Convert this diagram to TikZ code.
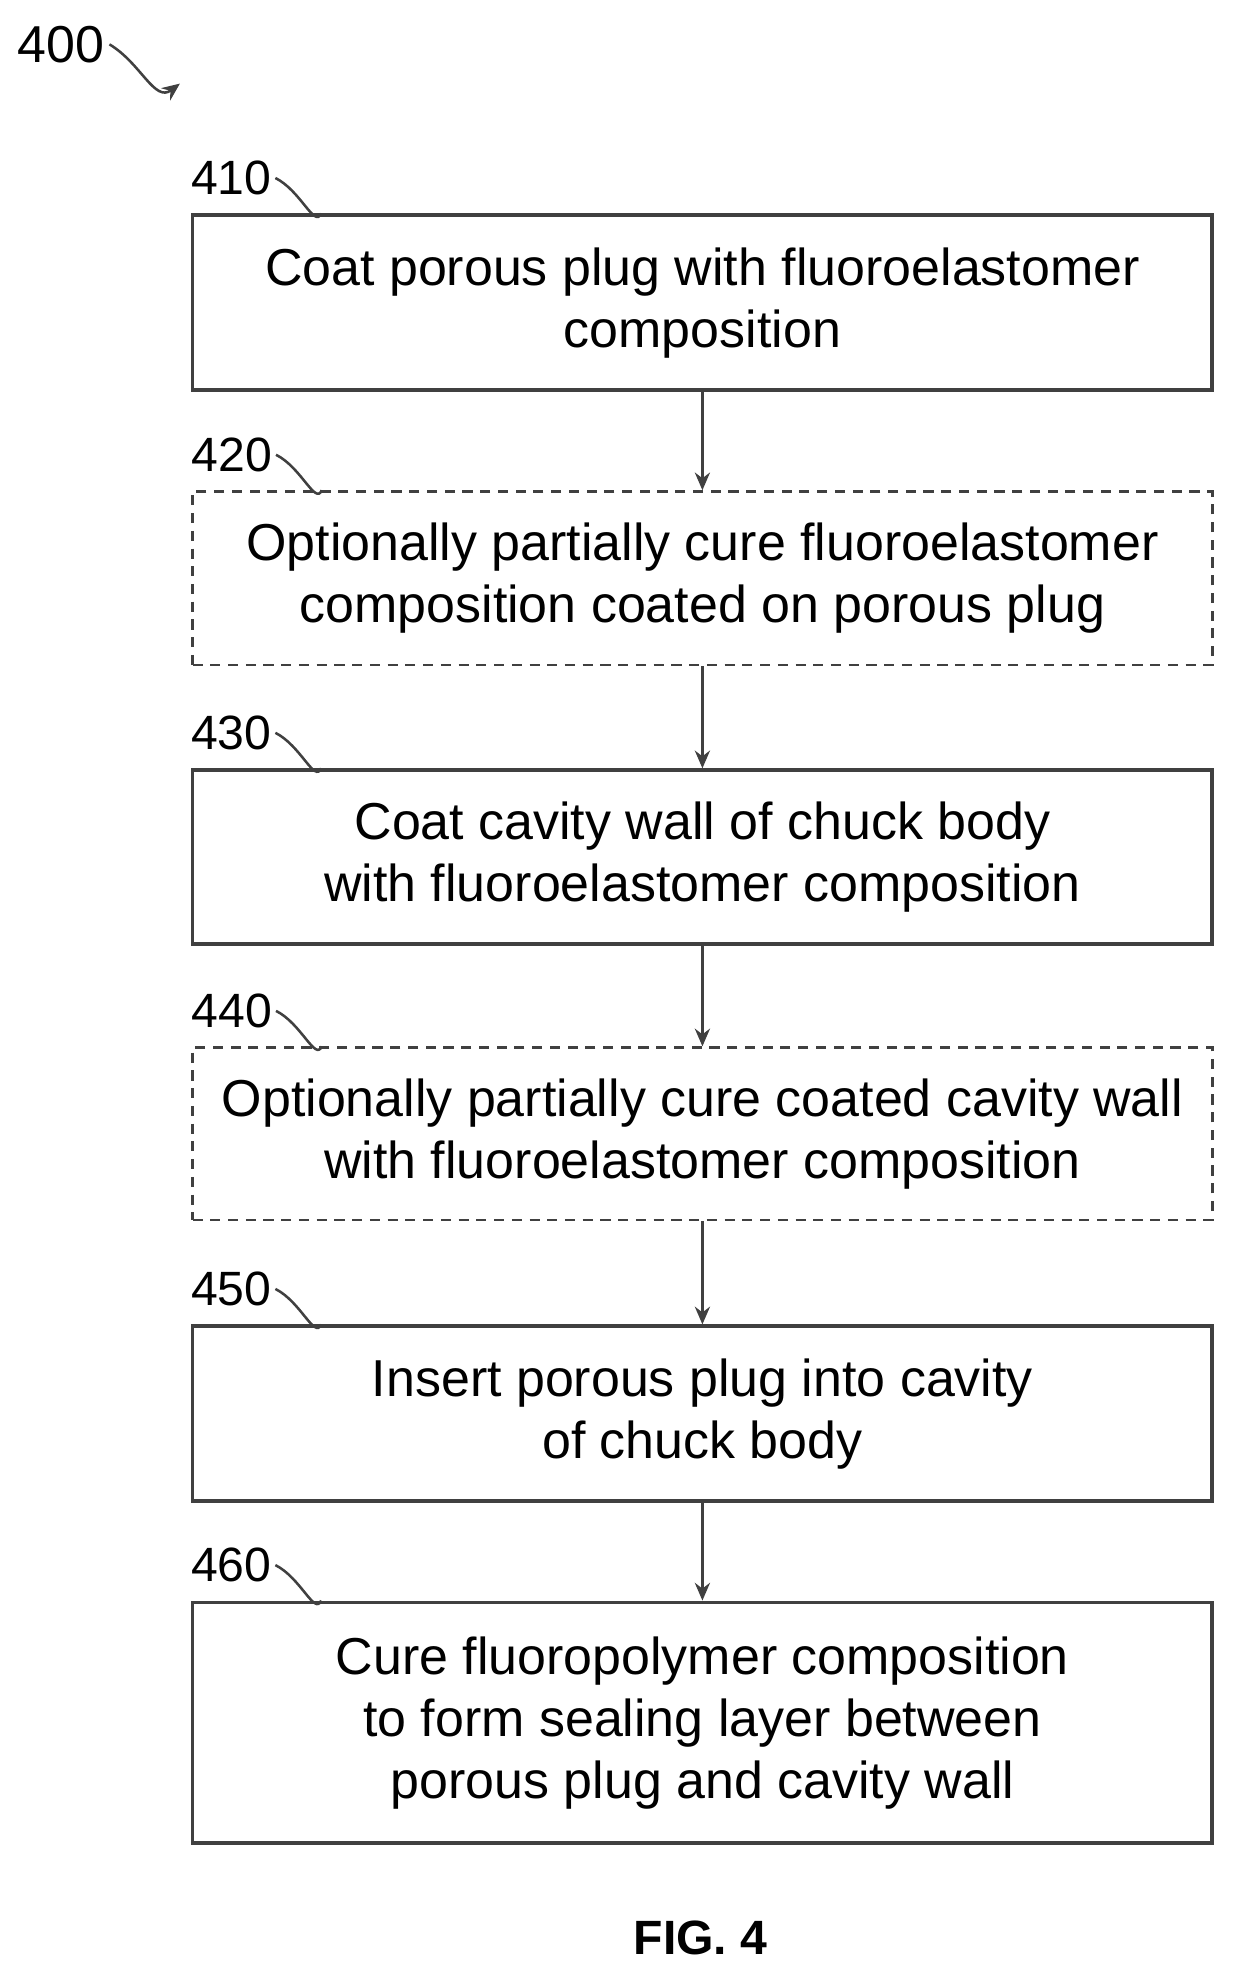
\documentclass[tikz,border=0pt]{standalone}
\usepackage{fontspec}
\setmainfont{Liberation Sans}
\usetikzlibrary{arrows.meta}
\begin{document}
\begin{tikzpicture}[x=1pt,y=-1pt,
  box/.style={draw=black!75,line width=3pt,minimum width=805pt,align=center,inner sep=0pt,font=\fontsize{41}{49}\selectfont},
  optbox/.style={box,dashed,line width=2pt,dash pattern=on 8pt off 6pt},
  lbl/.style={font=\fontsize{38}{40}\selectfont,inner sep=0pt},
  arr/.style={draw=black!75,line width=2pt,-{Stealth[length=14pt,width=12pt]}}]
\useasboundingbox (0,0) rectangle (975,1567);
\node[box,minimum height=138pt] (b410) at (554.5,239) {Coat porous plug with fluoroelastomer\\composition};
\node[optbox,minimum height=137pt] (b420) at (554.5,456.5) {Optionally partially cure fluoroelastomer\\composition coated on porous plug};
\node[box,minimum height=137pt] (b430) at (554.5,676.5) {Coat cavity wall of chuck body\\with fluoroelastomer composition};
\node[optbox,minimum height=136pt] (b440) at (554.5,895) {Optionally partially cure coated cavity wall\\with fluoroelastomer composition};
\node[box,minimum height=138pt] (b450) at (554.5,1116) {Insert porous plug into cavity\\of chuck body};
\node[box,minimum height=190pt] (b460) at (554.5,1360) {Cure fluoropolymer composition\\to form sealing layer between\\porous plug and cavity wall};
\foreach \a/\b in {b410/b420,b420/b430,b430/b440,b440/b450,b450/b460}
  \draw[arr] (\a.south) -- (\b.north);
\foreach \n/\y in {410/b410,420/b420,430/b430,440/b440,450/b450,460/b460}{
  \node[lbl] (l\n) at ([xshift=32pt,yshift=28pt]\y.north west) {\n};
  \draw[line width=2pt,black!75] (l\n.east) ++(3pt,0) .. controls +(20pt,-10pt) and +(-5pt,-12pt) .. ([xshift=103pt]\y.north west);
}
\node[lbl,font=\fontsize{41}{44}\selectfont] (l400) at (48,35) {400};
\coordinate (t400) at (142,66);
\draw[arr] ([xshift=4pt]l400.east) .. controls +(25pt,-15pt) and +(-20pt,-15pt) .. (t400);
\node[font=\bfseries\fontsize{38}{40}\selectfont] (fig) at (553,1530) {FIG. 4};
\end{tikzpicture}
\end{document}
